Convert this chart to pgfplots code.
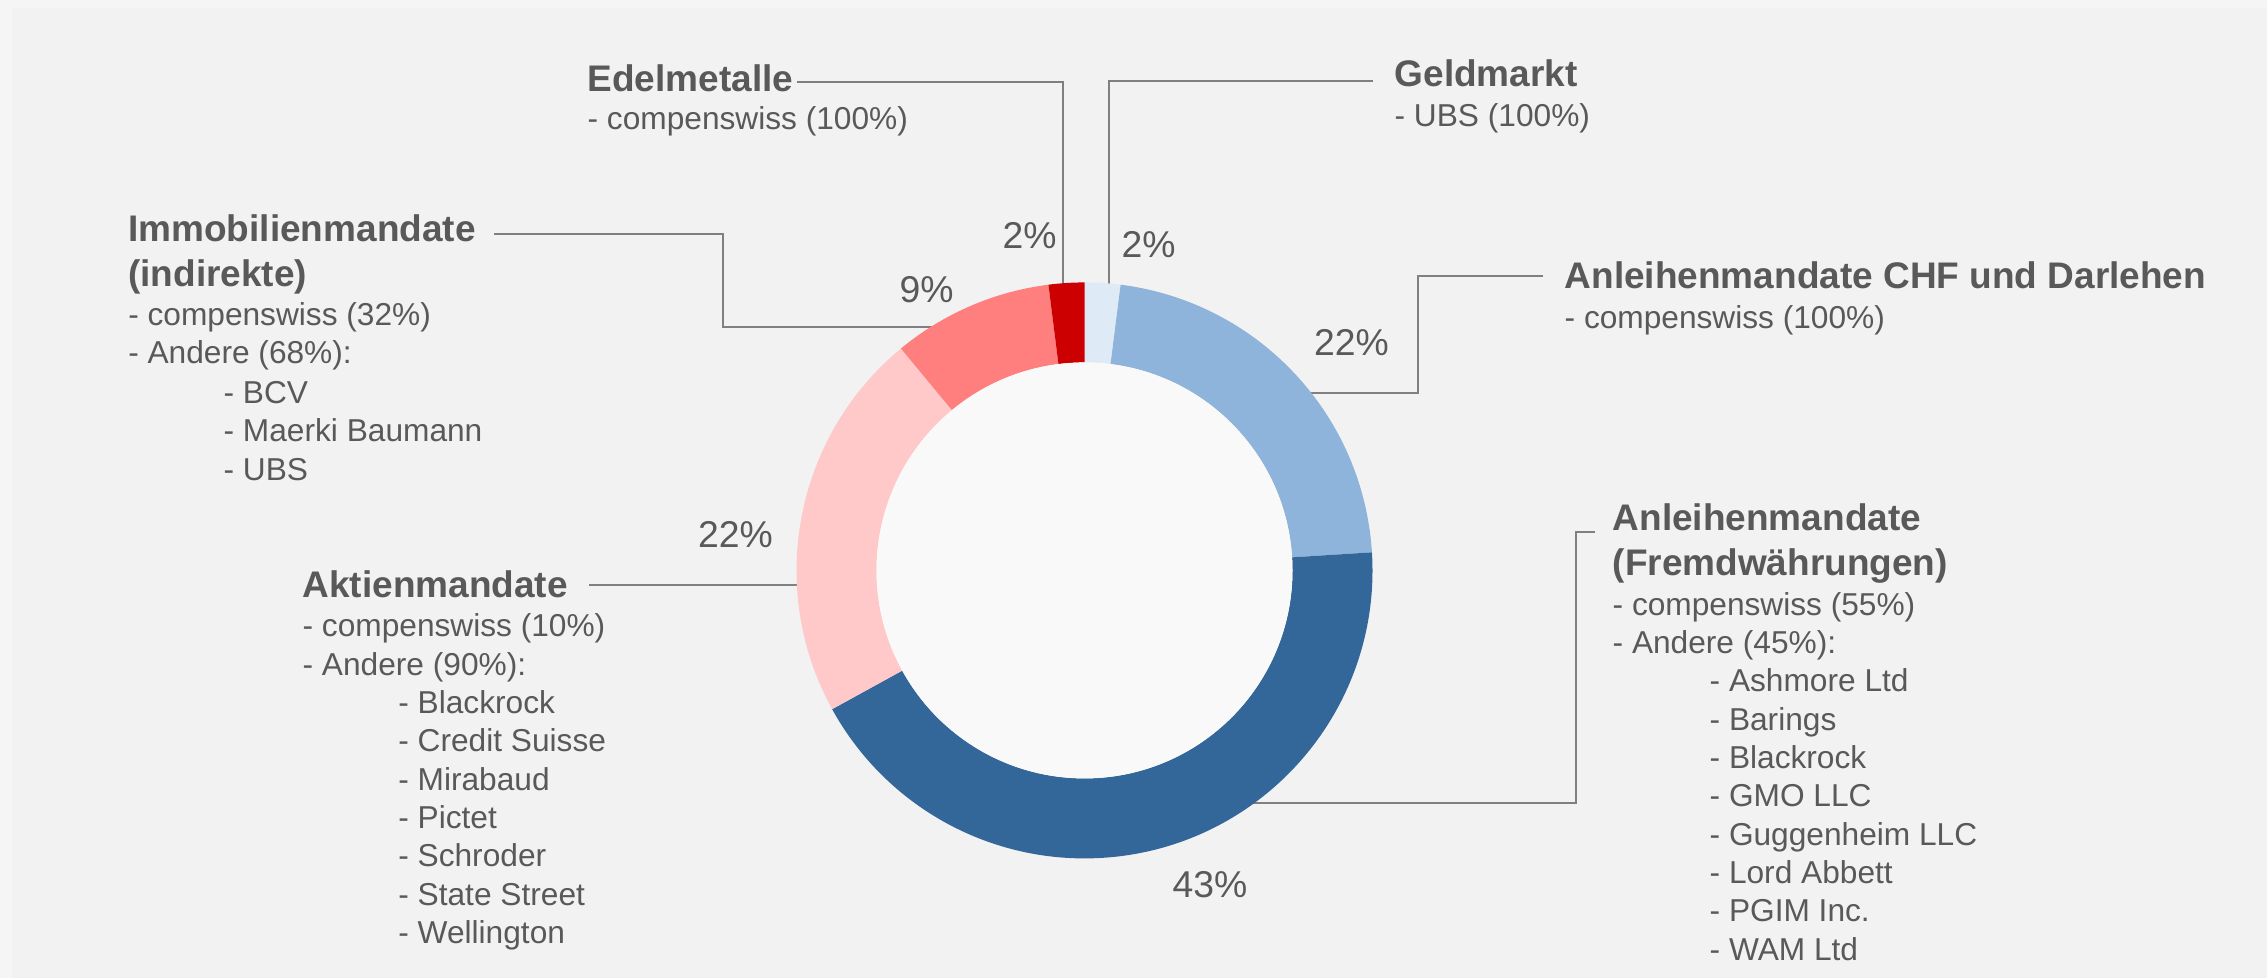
\documentclass[border=0pt]{standalone}
\usepackage{fontspec}
\setmainfont{Liberation Sans}
\usepackage{pgfplots}
\usepackage{pgfplotstable}
\pgfplotsset{compat=1.18}

\definecolor{bgout}{HTML}{F5F5F5}
\definecolor{bgin}{HTML}{F2F2F2}
\definecolor{hole}{HTML}{F9F9F9}
\definecolor{txt}{HTML}{595959}
\definecolor{lead}{HTML}{808080}
\definecolor{cGeld}{HTML}{DEEAF6}
\definecolor{cCHF}{HTML}{8FB4DB}
\definecolor{cFX}{HTML}{336699}
\definecolor{cAkt}{HTML}{FFC9C9}
\definecolor{cImmo}{HTML}{FF7F7F}
\definecolor{cEdel}{HTML}{CC0000}

% shares clockwise from 12 o'clock
\pgfplotstableread[col sep=comma]{
share,col
2,cGeld
22,cCHF
43,cFX
22,cAkt
9,cImmo
2,cEdel
}\shares

\newcommand\U{0.3pt}% one reference pixel
\newcommand\txt[3]{\node[anchor=base west,inner sep=0pt,text=txt,
  font=\fontsize{9.5}{11}\selectfont] at (axis cs:#1,#2) {#3};}
\newcommand\hd[3]{\node[anchor=base west,inner sep=0pt,text=txt,
  font=\fontsize{11.1}{13}\selectfont\bfseries] at (axis cs:#1,#2) {#3};}
\newcommand\pct[3]{\node[anchor=base west,inner sep=0pt,text=txt,
  font=\fontsize{11.2}{13}\selectfont] at (axis cs:#1,#2) {#3};}

\begin{document}
\begin{tikzpicture}
\begin{axis}[
    hide axis, scale only axis,
    width=680.1pt, height=293.4pt,
    xmin=0, xmax=2267, ymin=0, ymax=978,
    y dir=reverse, enlargelimits=false, clip=false,
]
  \fill[bgout] (axis cs:0,0) rectangle (axis cs:2267,978);
  \fill[bgin] (axis cs:12,8) rectangle (axis cs:2267,978);

  % leader lines
  \draw[lead,line width=0.6pt] (axis cs:797,82) -- (axis cs:1063,82) -- (axis cs:1063,290);
  \draw[lead,line width=0.6pt] (axis cs:1373,81) -- (axis cs:1109,81) -- (axis cs:1109,290);
  \draw[lead,line width=0.6pt] (axis cs:1543,276) -- (axis cs:1418,276) -- (axis cs:1418,393) -- (axis cs:1300,393);
  \draw[lead,line width=0.6pt] (axis cs:1595,532) -- (axis cs:1576,532) -- (axis cs:1576,803) -- (axis cs:1250,803);
  \draw[lead,line width=0.6pt] (axis cs:589,585) -- (axis cs:805,585);
  \draw[lead,line width=0.6pt] (axis cs:494,234) -- (axis cs:722.6,234) -- (axis cs:722.6,326.5) -- (axis cs:940,326.5);

  % donut
  \pgfplotsextra{
    \coordinate (c) at (axis cs:1084.5,570.4);
    \gdef\cum{0}
    \pgfplotstablegetrowsof{\shares}
    \pgfmathtruncatemacro\nrows{\pgfplotsretval-1}
    \foreach \i in {0,...,\nrows}{
      \pgfplotstablegetelem{\i}{share}\of\shares
      \let\p\pgfplotsretval
      \pgfplotstablegetelem{\i}{col}\of\shares
      \let\col\pgfplotsretval
      \pgfmathsetmacro\aS{90-3.6*\cum}
      \pgfmathsetmacro\aE{90-3.6*(\cum+\p)}
      \fill[fill=\col] ([shift={(\aS:288*\U)}]c) arc[start angle=\aS,end angle=\aE,radius=288*\U]
        -- ([shift={(\aE:208*\U)}]c) arc[start angle=\aE,end angle=\aS,radius=208*\U] -- cycle;
      \pgfmathparse{\cum+\p}\xdef\cum{\pgfmathresult}
    }
    \fill[hole] (c) circle[radius=208*\U];
  }

  % percentages
  \pct{1121}{257}{2\%}
  \pct{1313.5}{355}{22\%}
  \pct{1172}{897}{43\%}
  \pct{697.4}{547}{22\%}
  \pct{899}{302}{9\%}
  \pct{1002}{248.3}{2\%}

  % Edelmetalle
  \hd{587}{91}{Edelmetalle}
  \txt{587}{129.5}{- compenswiss (100\%)}
  % Geldmarkt
  \hd{1394}{86}{Geldmarkt}
  \txt{1394}{126}{- UBS (100\%)}
  % CHF
  \hd{1564}{288.3}{Anleihenmandate CHF und Darlehen}
  \txt{1564}{328}{- compenswiss (100\%)}
  % Immobilien
  \hd{127.6}{241.7}{Immobilienmandate}
  \hd{127.6}{286}{(indirekte)}
  \txt{127.6}{325}{- compenswiss (32\%)}
  \txt{127.6}{363.3}{- Andere (68\%):}
  \txt{223}{403.3}{- BCV}
  \txt{223}{441.7}{- Maerki Baumann}
  \txt{223}{480}{- UBS}
  % Aktien
  \hd{302}{597.3}{Aktienmandate}
  \txt{302}{636.7}{- compenswiss (10\%)}
  \txt{302}{675}{- Andere (90\%):}
  \txt{397.7}{713.3}{- Blackrock}
  \txt{397.7}{751.7}{- Credit Suisse}
  \txt{397.7}{790}{- Mirabaud}
  \txt{397.7}{828.3}{- Pictet}
  \txt{397.7}{866.7}{- Schroder}
  \txt{397.7}{905}{- State Street}
  \txt{397.7}{943.3}{- Wellington}
  % Fremdwaehrungen
  \hd{1612}{530}{Anleihenmandate}
  \hd{1612}{575}{(Fremdwährungen)}
  \txt{1612}{615}{- compenswiss (55\%)}
  \txt{1612}{653.3}{- Andere (45\%):}
  \txt{1709}{691.7}{- Ashmore Ltd}
  \txt{1709}{730}{- Barings}
  \txt{1709}{768.3}{- Blackrock}
  \txt{1709}{806.7}{- GMO LLC}
  \txt{1709}{845}{- Guggenheim LLC}
  \txt{1709}{883.3}{- Lord Abbett}
  \txt{1709}{921.7}{- PGIM Inc.}
  \txt{1709}{960}{- WAM Ltd}
\end{axis}
\end{tikzpicture}
\end{document}
